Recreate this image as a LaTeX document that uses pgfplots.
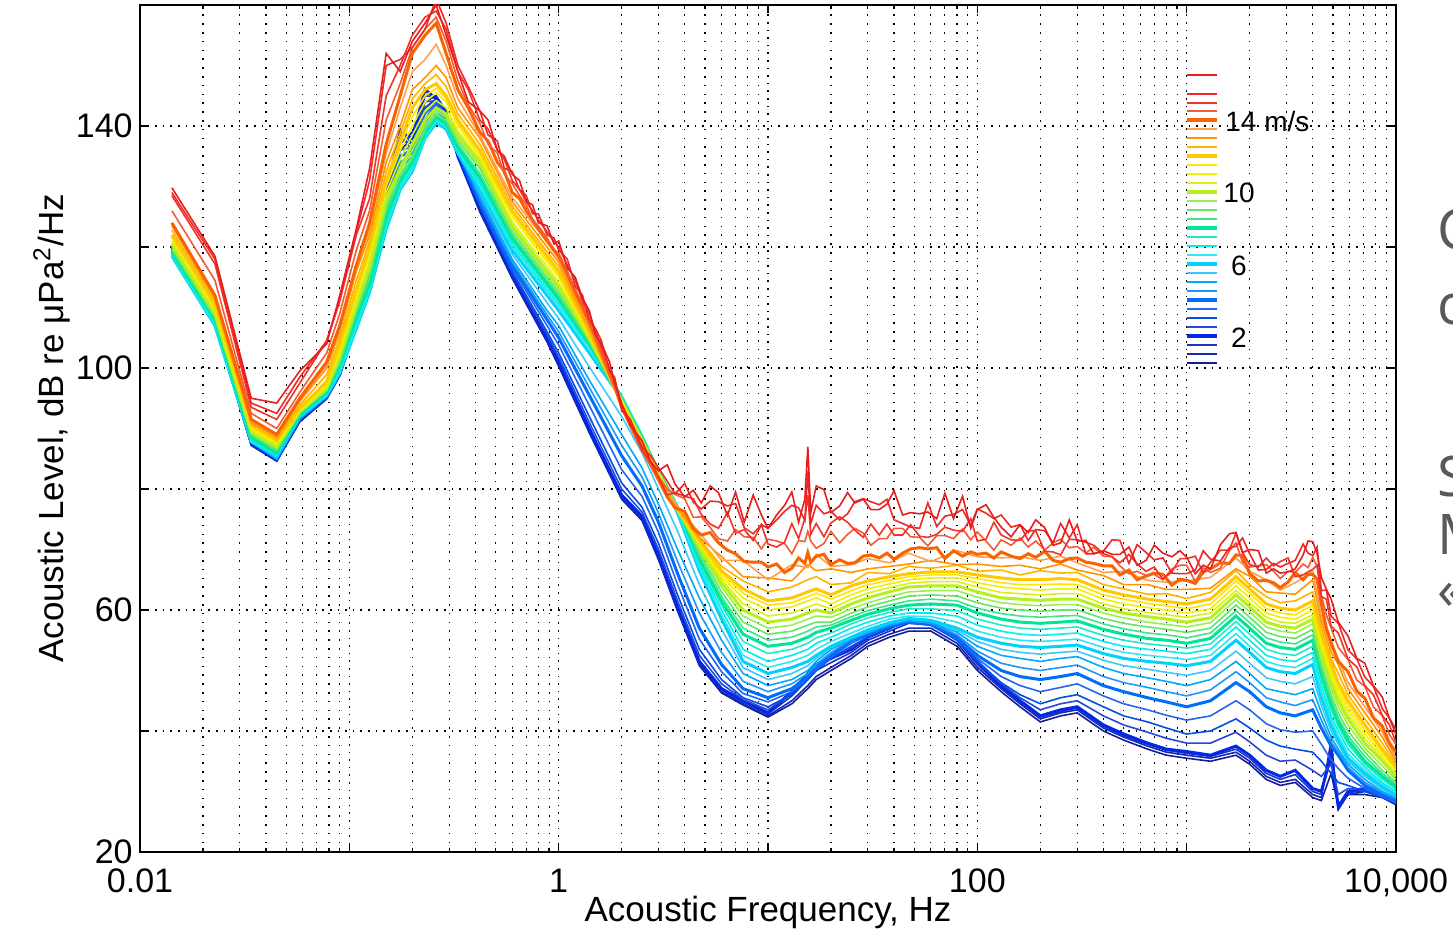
\documentclass[border=0pt]{standalone}
\usepackage{fontspec}
\setmainfont{Liberation Sans}
\newfontfamily\slidefont{Open Sans}
\usepackage{pgfplots}
\pgfplotsset{compat=1.18}
\usepackage{pgfplotstable}

\definecolor{k05}{RGB}{20,30,150}
\definecolor{k1}{RGB}{20,40,180}
\definecolor{k15}{RGB}{30,50,200}
\definecolor{k2}{RGB}{0,40,230}
\definecolor{k25}{RGB}{40,70,220}
\definecolor{k3}{RGB}{0,80,230}
\definecolor{k35}{RGB}{40,100,240}
\definecolor{k4}{RGB}{0,110,250}
\definecolor{k45}{RGB}{30,150,250}
\definecolor{k5}{RGB}{0,170,250}
\definecolor{k55}{RGB}{60,200,250}
\definecolor{k6}{RGB}{0,210,250}
\definecolor{k65}{RGB}{50,230,240}
\definecolor{k7}{RGB}{0,240,240}
\definecolor{k75}{RGB}{30,235,200}
\definecolor{k8}{RGB}{0,230,150}
\definecolor{k85}{RGB}{60,230,140}
\definecolor{k9}{RGB}{100,230,100}
\definecolor{k95}{RGB}{150,240,80}
\definecolor{k10}{RGB}{180,240,30}
\definecolor{k105}{RGB}{220,240,20}
\definecolor{k11}{RGB}{240,240,0}
\definecolor{k115}{RGB}{255,230,0}
\definecolor{k12}{RGB}{255,200,0}
\definecolor{k125}{RGB}{255,180,0}
\definecolor{k13}{RGB}{255,150,0}
\definecolor{k135}{RGB}{255,160,80}
\definecolor{k14}{RGB}{250,100,0}
\definecolor{k145}{RGB}{245,90,50}
\definecolor{k150}{RGB}{240,50,40}
\definecolor{k155}{RGB}{240,40,40}
\definecolor{k165}{RGB}{230,30,30}
\definecolor{slidegray}{RGB}{89,89,89}

% spectra for wind speeds 0.5 ... 13.5 m/s
\pgfplotstableread{
f v05 v1 v15 v2 v25 v3 v35 v4 v45 v5 v55 v6 v65 v7 v75 v8 v85 v9 v95 v10 v105 v11 v115 v12 v125 v13 v135
0.0142 119.2 119.5 119.7 120 119.9 119.8 119.6 119.5 119.3 119.2 118.8 118.5 118.6 118.7 119 119.2 119.5 119.7 120.1 120.5 121 121.5 121.8 122 122.8 123.5 123.8
0.0228 107.3 107.5 107.8 108 108 108 107.9 107.8 107.6 107.5 107.2 107 107.1 107.3 107.6 108 108.2 108.5 108.8 109 109.5 110 110.2 110.5 111 111.5 111.8
0.034 87.2 87.3 87.5 87.6 87.7 87.8 87.8 87.8 87.8 87.8 87.8 87.8 87.9 88 88.3 88.5 88.8 89 89.3 89.5 89.8 90 90.3 90.5 90.8 91 91.3
0.045 84.6 84.7 84.8 84.8 84.9 85 85 85 85 85 85.2 85.5 85.6 85.7 85.9 86 86.3 86.5 86.8 87 87.3 87.5 87.8 88 88.3 88.6 88.8
0.058 91.1 91.2 91.4 91.5 91.5 91.5 91.5 91.6 91.7 91.7 91.9 92 92 92 92.2 92.3 92.5 92.6 92.7 92.8 92.9 93 93.2 93.3 93.9 94.5 94.8
0.078 94.9 95 95.1 95.2 95.2 95.2 95.3 95.3 95.3 95.3 95.4 95.5 95.6 95.7 95.9 96 96.2 96.3 96.5 96.8 97 97.3 97.5 97.8 98.9 100 100.5
0.09 98.7 98.8 98.9 99 99.1 99.2 99.1 99 99 99 99.1 99.3 99.4 99.6 100 100.5 100.8 101 101.5 102 102.5 103 103.5 104 105 106 106.5
0.108 106.8 107 107.2 107.5 107.5 107.5 107.3 107.2 107.1 107 106.7 106.5 106.7 107 107.8 108.5 109 109.5 110 110.5 111.2 112 112.5 113 114.5 116 116.5
0.125 115.5 116 116.3 116.5 116.2 116 115.5 115 114.5 114 113.2 112.5 112.7 113 113.5 114 114.8 115.5 116.2 117 118 119 119.5 120 121 122 123
0.15 128 128.5 129.5 129 128.5 128 127.5 127 126 125 124 123 123.2 123.5 124.2 125 125.8 126.5 127.2 128 129 130 130.5 131 132.5 134 135.5
0.175 136 137 139.5 139 138.5 138 136 135 134 133 131 129.5 129.7 130 130.5 131 131.5 132 132.5 133 134.5 136 136.8 137.5 138.8 140 143
0.2 138 139 137 138 136 137 136.5 136 135.5 135 133.8 132.5 132.7 133 133.5 134 134.5 135 136 137 138.5 140 141.5 143 144.5 146 149
0.23 143 144 145 146 144 143 142 141 140.5 140 139 138 138 138 138.5 139 139.3 139.5 140.2 141 142.5 144 145 146 147 148 151
0.26 144.5 145 144.8 144.5 144.2 144 143.8 143.5 143 142.5 141.5 140.5 140.8 141 141.3 141.5 141.8 142 142.5 143 144.2 145.5 146.2 147 148.5 150 153.5
0.29 142.3 142.5 142.2 142 142 142 141.8 141.5 141.2 141 140.2 139.5 139.8 140 140.2 140.5 140.8 141 141.5 142 143 144 144.5 145 146.5 148 150
0.33 134.8 135 135 135 135.2 135.5 135.8 136 136 136 135.8 135.5 135.8 136 136.2 136.5 137 137.5 138 138.5 139.2 140 140.5 141 142 143 144.5
0.42 125.8 126 126.2 126.5 126.8 127 127.2 127.5 128 128.5 129 129.5 130 130.5 131 131.5 132.2 133 133.5 134 134.5 135 135.5 136 137 138 138.5
0.6 114.8 115 115.2 115.5 115.8 116 116.5 117 117.5 118 118.8 119.5 120 120.5 121 121.5 122 122.5 123 123.5 124.2 125 125.5 126 126.8 127.5 128.2
0.88 104.3 104.5 104.8 105 105.5 106 107 108 108.8 109.5 110.8 112 112.5 113 113.5 114 114.5 115 115.5 116 116.8 117.5 118 118.5 119.2 120 120.8
1.0 100.3 100.5 100.8 101 101.8 102.5 103.8 105 106 107 108.2 109.5 110 110.5 111 111.5 112 112.5 113 113.5 114.2 115 115.5 116 116.8 117.5 118
1.4 89.3 89.5 89.8 90 91 92 93.8 95.5 96.8 98 100.2 102.5 103 103.5 103.8 104 104.2 104.5 104.8 105 105.2 105.5 105.8 106 106.2 106.5 106.8
2.0 78.3 78.5 78.8 79 80 81 83.2 85.5 87.2 89 92 95 95.2 95.5 95.2 95 95 95 94.8 94.5 94.5 94.5 94.2 94 94 94 93.8
2.5 74.8 75 75.2 75.5 76.2 77 78.8 80.5 82 83.5 86 88.5 88.8 89 88.8 88.5 88.5 88.5 88.2 88 87.8 87.5 87.5 87.5 87.2 87 86.8
3.0 68.3 68.5 68.8 69 70 71 72.8 74.5 76 77.5 80 82.5 82.8 83 83 83 83 83 82.8 82.5 82.5 82.5 82.2 82 82 82 81.8
3.7 59.8 60 60.2 60.5 61.5 62.5 64.2 66 68 70 73 76 76.2 76.5 76.8 77 77 77 76.8 76.5 76.5 76.5 76.5 76.5 76.8 77 77
4.7 50.8 51 51.2 51.5 52.5 53.5 55.2 57 59.5 62 64.2 66.5 67 67.5 68 68.5 69 69.5 70 70.5 70.8 71 71.2 71.5 71.8 72 72.8
6 46.3 46.5 46.8 47 47.8 48.5 49.8 51 53 55 56.8 58.5 59.2 60 60.8 61.5 62.2 63 63.8 64.5 65 65.5 66 66.5 67.2 68.8 68.2
7.6 44.3 44.5 44.8 45 45.2 45.5 46.2 47 48.2 49.5 50.5 51.5 52.5 53.5 54.8 56 57 58 59 60 61 62 62.8 63.5 64.8 65.5 68.2
10 42.3 42.5 42.8 43 43.5 44 44.8 45.5 46.5 47.5 48.5 49.5 50.5 51.5 52.8 54 55 56 57 58 59 60 60.8 61.5 63 65.3 65
13 44.5 45 45.8 46.5 46.2 46 46.5 47 47.8 48.5 49.5 50.5 51.5 52.5 53.5 54.5 55.5 56.5 57.5 58.5 59.5 60.5 61.2 62 63.8 64.8 67.5
15.5 47 47.5 48.5 49.5 49 48.5 48.8 49 49.5 50 50.8 51.5 52.5 53.5 54.5 55.5 56.5 57.5 58.5 59.5 60.5 61.5 62.2 63 65 67.5 67
17 48.5 49 50 51 50.5 50 50.2 50.5 51 51.5 52 52.5 53.5 54.5 55.4 56.3 57.2 58 59 60 61 62 62.8 63.5 65.5 66.5 69.2
20 50 50.5 51.3 52 52 52 52.2 52.5 53 53.5 53.8 54 54.8 55.5 56.2 57 57.5 58 58.8 59.5 60.2 61 61.8 62.5 64.2 66.8 67.2
25 52 52.5 53 53.5 53.8 54 54.5 55 55.1 55.2 55.4 55.5 56.2 57 57.7 58.3 58.9 59.5 60.2 61 61.8 62.5 63.2 64 64.5 66.2 67.5
30 54 54.5 55 55.5 55.5 55.5 55.8 56 56.2 56.3 56.5 56.7 57.3 58 58.7 59.3 59.9 60.5 61.2 62 62.8 63.5 64.2 64.8 66.2 66.8 68.5
38 55.5 56 56.5 57 57 57 57.2 57.3 57.5 57.6 57.8 57.9 58.5 59 59.6 60.2 60.8 61.5 62.2 63 63.7 64.3 64.9 65.5 66 67.2 67.8
47 56.5 57 57.8 58.5 58.2 58 58 58 58.2 58.3 58.5 58.6 59 59.5 60.2 60.8 61.5 62.3 63 63.8 64.4 65 65.5 66 67.2 67.6 69.4
60 56.5 57 57.5 58 57.9 57.8 57.7 57.6 57.8 58 58.2 58.3 58.9 59.5 60.2 61 61.8 62.5 63.2 64 64.7 65.3 65.8 66.3 66.9 68.2 68
80 54 54.5 55 55.5 55.2 55 55.2 55.5 55.9 56.3 56.6 57 58 59 59.9 60.8 61.5 62.3 63.2 64 64.7 65.3 65.8 66.3 67.4 67.5 69.8
100 50 50.5 51 51.5 51.5 51.5 52 52.5 53.2 54 54.8 55.5 56.5 57.5 58.5 59.5 60.3 61.2 62.1 63 63.8 64.5 65.2 65.8 66.4 67.6 68.8
130 46.5 47 47.2 47.5 47.8 48 49 50 51.2 52.5 53.5 54.5 55.5 56.5 57.5 58.5 59.4 60.3 61.2 62 62.9 63.8 64.5 65.3 66.6 67.2 68.6
160 44 44.5 44.8 45 45.5 46 47.5 49 50.5 52 53 54 55 56 57 58 59 60 60.9 61.8 62.7 63.5 64.2 65 65.8 67.4 68.8
200 41.5 42 42.3 42.5 43.5 44.5 46.5 48.5 50 51.5 52.7 53.8 54.8 55.8 56.8 57.8 58.8 59.8 60.7 61.6 62.5 63.3 64.2 65 66.5 66.8 68.2
250 42.5 43 43.2 43.5 44.5 45.5 47.2 49 50.5 52 53 54 55 56 57 58 59 60 60.9 61.8 62.7 63.5 64.3 65.2 66.1 67.6 68.9
300 43 43.5 43.8 44 45 46 47.8 49.5 50.9 52.3 53.2 54.2 55.2 56.2 57.2 58.2 59.1 60 60.9 61.8 62.7 63.5 64.2 65 66.2 66.6 67.8
400 40 40.5 40.8 41 42.5 44 45.8 47.5 49 50.5 51.7 52.8 53.8 54.8 55.8 56.8 57.7 58.6 59.5 60.3 61 61.8 62.5 63.3 64.2 65.7 66.2
500 38.5 39 39.2 39.5 41 42.5 44.5 46.5 48 49.5 50.8 52 53 54 55 56 56.9 57.8 58.7 59.5 60.2 61 61.8 62.5 63.5 64.2 66.4
650 37 37.5 37.8 38 39.8 41.5 43.5 45.5 47.2 48.8 50.2 51.5 52.5 53.5 54.4 55.3 56.2 57.2 58 58.9 59.6 60.4 61.1 61.8 62.6 64.2 64.9
800 36 36.5 36.8 37 38.8 40.5 42.6 44.8 46.5 48.2 49.7 51.2 52.2 53.2 54.1 55 55.9 56.8 57.6 58.5 59.2 60 60.7 61.4 62.7 63.4 64.6
1000 35.5 36 36.3 36.6 38 39.5 41.8 44 45.8 47.5 49.2 50.8 51.8 52.8 53.7 54.5 55.4 56.3 57.2 58 58.8 59.5 60.2 61 61.9 63.4 64.8
1300 35 35.5 35.8 36 38 40 42.5 45 46.8 48.5 50 51.5 52.5 53.5 54.4 55.3 56.2 57 57.9 58.7 59.5 60.2 61 61.8 62.9 63.6 65.4
1720 36 36.5 37 37.5 39.8 42 45 48 49.8 51.5 53.2 55 56.1 57.2 58.1 59 59.9 60.8 61.7 62.5 63.2 64 64.8 65.5 66.5 66.8 68.6
2000 34.5 35 35.5 36 38.2 40.5 43.5 46.5 48 49.5 51.2 53 54 55 56 57 57.9 58.8 59.7 60.5 61.2 62 62.8 63.5 64.2 65.6 66.4
2400 32 32.5 33 33.5 36 38.5 41.2 44 45.5 47 48.8 50.5 51.5 52.5 53.5 54.5 55.4 56.3 57.2 58 58.8 59.5 60.2 61 62.2 63 65
2800 31 31.5 32 32.5 35 37.5 40.2 43 44.8 46.5 48.2 49.8 50.8 51.8 52.8 53.8 54.7 55.6 56.5 57.3 58 58.8 59.5 60.3 61.2 62.8 63.3
3300 31.5 32 32.8 33.5 35.2 37 39.8 42.5 44.2 46 47.8 49.5 50.5 51.5 52.5 53.5 54.4 55.3 56.2 57 57.8 58.5 59.2 60 61.5 62.6 64.5
4000 29 29.5 30 30.5 33.5 36.5 40 43.5 45.2 47 49 51 52 53 54 55 55.9 56.8 57.7 58.5 59.2 60 60.8 61.5 63 65 66.4
4400 28.5 29 29.5 30 32.5 35 37.8 40.5 41.8 43 44.2 45.5 46.5 47.5 48.5 49.5 50.2 51 52 53 53.8 54.5 55.2 56 57 58 59
4900 33 38.5 37 36 34.5 33 35.2 37.5 38.2 39 40 41 41.8 42.5 43.5 44.5 45.2 46 47 48 48.8 49.5 50.2 51 52 53 53.8
5300 27.5 27 27.2 27.5 29.5 31.5 33.8 36 36.5 37 37.8 38.5 39.2 40 40.8 41.5 42.2 43 44 45 45.8 46.5 47.2 48 49.5 51 51.8
5900 29.5 29.5 29.8 30 30.5 31 32.2 33.5 34 34.5 35 35.5 36.2 37 37.8 38.5 39.2 40 41 42 42.8 43.5 44.2 45 46 47 48
7100 29.5 30 30.2 30.5 30.2 30 30.5 31 31.5 32 32.5 33 33.5 34 34.5 35 35.8 36.5 37.2 38 38.8 39.5 40.2 41 42 43 44
8600 29 29.5 29.5 29.5 29.2 29 29.2 29.5 29.8 30 30.4 30.8 31.2 31.5 32 32.5 33 33.5 34.2 35 35.5 36 36.5 37 38 39 39.8
10000 27.8 28 28.2 28.5 28.2 28 28.2 28.5 28.8 29 29.2 29.5 29.8 30 30.4 30.8 31.2 31.5 32 32.5 33 33.5 33.8 34 34.5 35 35.5
}\lowwind

% spectra for wind speeds 14 ... 16.5 m/s (noisier, denser sampling)
\pgfplotstableread{
f v14 v145 v15 v155 v165
0.0142 124 126 128.5 129 129.8
0.0228 112 114.5 117.2 118 118.5
0.034 91.5 92.5 93.5 94.2 95
0.045 89 90 91.5 92.5 94.2
0.058 95 96 97.5 98.5 99.5
0.078 101 102.5 104.5 104.5 104
0.09 107 109 111 111.5 112
0.108 117 119.5 122 122.5 123
0.125 124 126 128 131 133
0.15 137 141 145 150 152
0.175 145 147 150 151 149
0.2 152 153 155 153 154
0.23 155 156 158 156 157
0.26 157 158 159 161 160
0.29 152 154 156 157 155
0.33 146 147.5 149 150 149
0.37 143 143.5 146 146.5 144
0.42 139 140.5 141 142.5 142.5
0.46 137.5 137 139.5 138.5 141
0.51 134 135.5 136 137.5 136
0.55 132.5 132 134.5 133 135
0.6 129 130.5 131 132.5 132
0.65 128 128.5 129.5 129.5 131
0.7 126 127 127.5 128.5 127.5
0.75 124.5 124.5 126 125.5 127
0.8 123 123.5 124.5 125.5 124
0.88 121 121.5 122.5 122 123.5
0.95 119.5 119.5 121 121.5 120.5
1.0 118.5 119 120 119.5 121
1.1 115.5 116 117 118 116.5
1.2 112.5 113 114.5 113.5 115
1.3 110 110.5 111 112 111.5
1.4 107.5 108 109 108 109.5
1.5 105 105.5 106 106.5 105.5
1.6 102.5 103 103.5 104.5 104
1.75 99 99.5 100 99.5 101
1.85 97 97 98 98.5 97.5
2.0 93.5 93.5 94 93 94
2.2 90.5 90.5 91 91.5 90.5
2.5 86.5 86.5 86.5 87 88
2.75 84 84 84.5 85.5 84.5
3.0 81.5 82 82 83.5 83
3.3 78.7 80.0 79.0 81.3 84.0
3.6 76.9 79.1 79.4 79.2 80.8
4.0 76.3 78.4 78.8 80.9 78.7
4.4 73.4 75.3 78.4 77.8 79.8
4.8 72.4 75.4 75.8 76.7 77.7
5.3 72.8 73.6 74.2 78.0 80.5
5.8 71.1 71.8 73.5 77.9 79.4
6.4 69.9 71.4 76.1 77.2 75.6
7.0 69.3 73.3 72.7 77.6 79.5
7.7 68.0 72.1 73.3 73.6 74.5
8.5 67.9 72.0 71.5 72.6 79.0
9.3 67.9 70.1 74.1 74.1 75.7
10 67.1 71.7 70.9 73.5 73.5
11 67.6 71.4 70.4 74.9 75.7
12 66.2 71.0 71.2 76.3 77.3
13 66.9 69.3 74.3 77.3 79.5
14 68.6 71.5 71.8 76.9 74.5
15 67.7 71.3 75.1 74.8 78.3
15.5 69.5 73 79 83 87
16 67.9 71.4 72.5 74.3 76.1
17 68.9 70.2 74.3 77.3 80.5
18.5 69.2 71.0 72.1 75.9 79.9
20 67.5 73.0 74.4 76.3 76.1
22 68.3 71.1 75.4 74.9 77.2
24 67.7 72.5 74.5 75.9 79.4
26 67.8 73.5 73.2 77.9 77.7
28.5 68.9 72.7 72.0 78.4 78.3
31 69.1 70.7 74.2 77.9 76.6
34 68.6 71.8 72.4 77.4 76.6
37 69.4 71.8 74.2 78.3 77.5
40 68.4 73.5 72.4 74.9 79.7
44 69.4 73.5 72.4 74.3 75.7
48 70.1 72.1 74.1 73.7 76.1
53 70.3 72.0 72.2 73.5 75.9
58 70.1 70.6 72.0 77.7 76.2
64 70.3 72.3 72.5 73.8 75.1
70 68.5 72.3 73.7 75.5 79.3
77 69.8 71.8 73.2 75.8 75.1
85 68.9 73.4 73.0 76.6 78.8
93 69.6 71.6 75.1 74.0 73.5
100 69.2 72.9 71.4 76.7 76.6
110 69.4 71.4 71.7 76.0 77.4
120 68.6 69.9 74.5 75.1 75.3
130 69.6 71.6 72.4 75.7 73.7
145 68.9 70.7 71.6 73.7 72.1
160 68.5 71.9 71.5 74.1 74.1
175 69.3 70.4 73.1 71.5 72.8
190 68.7 71.4 73.1 73.3 74.9
210 69.7 69.9 69.7 73.1 73.6
230 68.2 71.1 69.6 71.1 70.7
250 67.9 71.7 69.1 74.3 71.1
275 68.5 70.3 71.7 71.9 74.9
300 68.6 70.5 71.6 74.1 71.4
330 67.9 69.4 71.2 69.3 71.5
360 67.7 70.4 70.7 69.3 69.3
400 67.3 68.9 69.3 69.7 69.8
440 67.3 68.8 68.8 71.6 69.2
480 65.8 67.3 67.8 71.5 69.2
530 66.6 66.0 69.2 67.7 70.4
580 65.0 66.4 67.6 70.8 67.4
640 65.6 65.7 66.4 69.5 68.2
700 66.1 65.9 67.1 68.3 70.7
770 65.9 65.0 65.1 68.6 69.4
850 64.1 66.8 66.3 66.1 68.8
930 65.1 67.4 68.5 66.0 69.8
1000 64.9 67.4 68.5 66.0 68.7
1100 64.4 64.7 68.9 66.6 66.0
1200 66.3 67.0 66.1 69.8 67.4
1300 66.8 66.2 67.9 68.4 66.8
1450 67.8 66.9 69.9 68.1 70.8
1600 67.7 69.8 69.9 70.3 72.6
1720 69.1 71.1 72.7 70.5 72.8
1850 69.0 67.9 69.5 71.9 69.5
2000 66.0 67.1 67.5 69.3 70.0
2200 64.8 67.3 67.1 66.6 69.8
2400 64.9 67.5 68.6 66.7 66.1
2600 64.5 66.4 67.3 67.7 66.8
2800 63.7 65.2 68.0 67.1 66.1
3050 64.6 66.4 68.6 67.7 66.3
3300 66.2 66.2 65.5 68.2 66.8
3600 65.0 67.6 65.8 70.9 69.1
3800 65.9 67.0 66.3 69.4 71.4
4000 65.9 68.7 66.7 69.0 71.3
4200 65.1 67.2 67.4 70.4 69.3
4400 61 62.4 62.2 63.2 65.4
4650 57 59.2 61.8 63.3 63.4
4900 54.6 57 57.3 59 61.8
5300 51.5 53.8 56.2 57.8 58
5900 49.8 51.8 51.9 53.4 55.7
6500 46.6 48.4 50.6 51.9 52
7100 45.4 47.4 47.5 48.9 51.2
7800 42.2 44 46 47.4 47.5
8600 40.8 42.5 42.6 43.7 45.6
9300 38 39.4 41 42.1 42.1
10000 36.5 37.8 38.1 39.4 40.2
}\highwind

\begin{document}
\begin{tikzpicture}
\useasboundingbox (0,0) rectangle (726.5pt,466pt);
\begin{axis}[
  at={(70pt,40pt)}, anchor=south west,
  scale only axis, width=628pt, height=423.5pt,
  xmode=log, xmin=0.01, xmax=10000, ymin=20, ymax=160,
  xtick={0.01,0.1,1,10,100,1000,10000},
  xticklabels={0.01,,1,,100,,{10,000}},
  minor xtick={0.02,0.03,0.04,0.05,0.06,0.07,0.08,0.09,0.2,0.3,0.4,0.5,0.6,0.7,0.8,0.9,2,3,4,5,6,7,8,9,20,30,40,50,60,70,80,90,200,300,400,500,600,700,800,900,2000,3000,4000,5000,6000,7000,8000,9000},
  ytick={20,40,60,80,100,120,140},
  yticklabels={20,,60,,100,,140},
  xtick pos=both, ytick pos=both,
  tick align=inside,
  major tick length=4pt, minor tick length=2pt,
  tick style={black, line width=0.6pt},
  xmajorgrids, xminorgrids, ymajorgrids,
  major grid style={black, line width=0.55pt, dash pattern=on 0.8pt off 3pt},
  minor grid style={black, line width=0.55pt, dash pattern=on 0.8pt off 3.6pt},
  axis line style={line width=0.8pt},
  tick label style={font=\fontsize{17}{17}\selectfont, inner sep=0pt},
  xticklabel style={anchor=base, yshift=-20.5pt},
  yticklabel style={anchor=east, xshift=-3.5pt},
  xlabel={Acoustic Frequency, Hz},
  ylabel={Acoustic Level, dB re μPa\textsuperscript{2}/Hz},
  label style={font=\fontsize{17.5}{17.5}\selectfont},
  xlabel style={at={(axis description cs:0.5,-0.0826)}, anchor=base},
  ylabel style={at={(axis description cs:-0.0613,0.5)}, anchor=base},
  thin line/.style={line width=0.8pt},
  thick line/.style={line width=1.5pt},
]
\addplot[k05, thin line] table[x=f,y=v05]{\lowwind};
\addplot[k1, thin line] table[x=f,y=v1]{\lowwind};
\addplot[k15, thin line] table[x=f,y=v15]{\lowwind};
\addplot[k2, thick line] table[x=f,y=v2]{\lowwind};
\addplot[k25, thin line] table[x=f,y=v25]{\lowwind};
\addplot[k3, thin line] table[x=f,y=v3]{\lowwind};
\addplot[k35, thin line] table[x=f,y=v35]{\lowwind};
\addplot[k4, thick line] table[x=f,y=v4]{\lowwind};
\addplot[k45, thin line] table[x=f,y=v45]{\lowwind};
\addplot[k5, thin line] table[x=f,y=v5]{\lowwind};
\addplot[k55, thin line] table[x=f,y=v55]{\lowwind};
\addplot[k6, thick line] table[x=f,y=v6]{\lowwind};
\addplot[k65, thin line] table[x=f,y=v65]{\lowwind};
\addplot[k7, thin line] table[x=f,y=v7]{\lowwind};
\addplot[k75, thin line] table[x=f,y=v75]{\lowwind};
\addplot[k8, thick line] table[x=f,y=v8]{\lowwind};
\addplot[k85, thin line] table[x=f,y=v85]{\lowwind};
\addplot[k9, thin line] table[x=f,y=v9]{\lowwind};
\addplot[k95, thin line] table[x=f,y=v95]{\lowwind};
\addplot[k10, thick line] table[x=f,y=v10]{\lowwind};
\addplot[k105, thin line] table[x=f,y=v105]{\lowwind};
\addplot[k11, thin line] table[x=f,y=v11]{\lowwind};
\addplot[k115, thin line] table[x=f,y=v115]{\lowwind};
\addplot[k12, thick line] table[x=f,y=v12]{\lowwind};
\addplot[k125, thin line] table[x=f,y=v125]{\lowwind};
\addplot[k13, thin line] table[x=f,y=v13]{\lowwind};
\addplot[k135, thin line] table[x=f,y=v135]{\lowwind};
\addplot[k14, thick line] table[x=f,y=v14]{\highwind};
\addplot[k145, thin line] table[x=f,y=v145]{\highwind};
\addplot[k150, thin line] table[x=f,y=v15]{\highwind};
\addplot[k155, thin line] table[x=f,y=v155]{\highwind};
\addplot[k165, thin line] table[x=f,y=v165]{\highwind};
\end{axis}
% wind-speed key
\foreach \yy/\cc/\w in {
428.5/k165/0.8, 419/k155/0.8, 414.5/k150/0.8, 410.5/k145/0.8,
406/k14/1.8, 401.5/k135/0.8, 397/k13/0.8, 392.5/k125/0.8,
388/k12/1.8, 383.5/k115/0.8, 379/k11/0.8, 374.5/k105/0.8,
370/k10/1.8, 365.5/k95/0.8, 361/k9/0.8, 356.5/k85/0.8,
352/k8/1.8, 347.5/k75/0.8, 343/k7/0.8, 338.5/k65/0.8,
334/k6/1.8, 329.5/k55/0.8, 325/k5/0.8, 320.5/k45/0.8,
316/k4/1.8, 311.5/k35/0.8, 307/k3/0.8, 302.5/k25/0.8,
298/k2/1.8, 293.5/k15/0.8, 289/k1/0.8, 284.5/k05/0.8}{
  \draw[\cc, line width=\w pt] (593.5pt,\yy pt) -- (608.5pt,\yy pt);
}
\begin{scope}[font=\fontsize{14}{14}\selectfont]
\node[anchor=west, inner sep=0pt] at (612.5pt,405pt) {14 m/s};
\node[inner sep=0pt] at (619.5pt,369.5pt) {10};
\node[inner sep=0pt] at (619.5pt,333pt) {6};
\node[inner sep=0pt] at (619.5pt,297pt) {2};
\end{scope}
% slide text cut by the right edge, as in the reference
\begin{scope}[font=\slidefont\fontsize{28}{28}\selectfont, text=slidegray]
\node[anchor=base west, inner sep=0pt] at (718.5pt,341pt) {Conclusion};
\node[anchor=base west, inner sep=0pt] at (718.5pt,303.5pt) {converge};
\node[anchor=base west, inner sep=0pt] at (718.5pt,217.5pt) {Shipping};
\node[anchor=base west, inner sep=0pt] at (718.5pt,188.5pt) {Most};
\node[anchor=base west, inner sep=0pt] at (718.5pt,161pt) {«};
\end{scope}
\end{tikzpicture}
\end{document}
